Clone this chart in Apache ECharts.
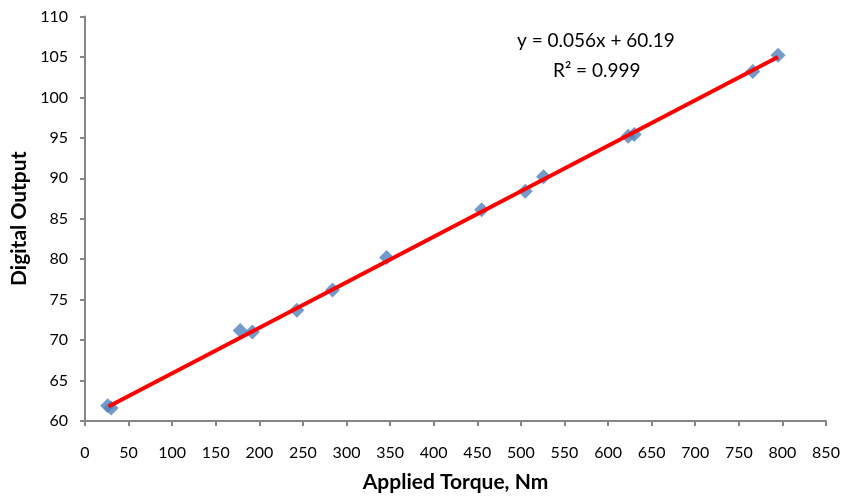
<!DOCTYPE html>
<html><head><meta charset="utf-8">
<script src="https://cdn.jsdelivr.net/npm/echarts@6/dist/echarts.min.js"></script>
<style>html,body{margin:0;padding:0;background:#fff}#c{width:845px;height:498px}</style>
</head><body><div id="c"></div>
<script>
const torque = [26, 30, 178, 192, 243, 284, 346, 455, 505, 526, 623, 630, 766, 795];
const output = [61.9, 61.6, 71.2, 71.0, 73.7, 76.2, 80.2, 86.1, 88.4, 90.2, 95.2, 95.4, 103.2, 105.2];
const trendX = [27, 795];
const trendY = [61.8, 105.0];
const xTicks = {min: 0, max: 850, interval: 50};
const yTicks = {min: 60, max: 110, interval: 5};
const eqText = 'y = 0.056x + 60.19';
const r2Text = 'R² = 0.999';

const chart = echarts.init(document.getElementById('c'), null, {renderer: 'canvas'});
const font = 'Lato, "Open Sans", sans-serif';
const axisLine = {show: true, onZero: false, lineStyle: {color: '#868686', width: 2}};
chart.setOption({
  animation: false,
  backgroundColor: '#fff',
  grid: {left: 85, right: 19, top: 16.5, bottom: 73},
  xAxis: {
    type: 'value', min: xTicks.min, max: xTicks.max, interval: xTicks.interval,
    name: 'Applied Torque, Nm', nameLocation: 'middle', nameGap: 51,
    nameTextStyle: {fontFamily: font, fontWeight: 'bold', fontSize: 21, color: '#000'},
    axisLine: axisLine,
    axisTick: {show: true, length: 5, lineStyle: {color: '#868686', width: 2}},
    axisLabel: {fontFamily: font, fontSize: 16, color: '#000', margin: 24},
    splitLine: {show: false}
  },
  yAxis: {
    type: 'value', min: yTicks.min, max: yTicks.max, interval: yTicks.interval,
    name: 'Digital Output', nameLocation: 'middle', nameGap: 54,
    nameTextStyle: {fontFamily: font, fontWeight: 'bold', fontSize: 21, color: '#000'},
    axisLine: axisLine,
    axisTick: {show: true, length: 5, lineStyle: {color: '#868686', width: 2}},
    axisLabel: {fontFamily: font, fontSize: 16, color: '#000', margin: 17},
    splitLine: {show: false}
  },
  graphic: [
    {type: 'text', left: 517, top: 31, style: {text: eqText, font: '19px ' + font, fill: '#000'}},
    {type: 'text', left: 553, top: 61, style: {text: r2Text, font: '19px ' + font, fill: '#000'}}
  ],
  series: [
    {
      type: 'scatter', data: torque.map((x, i) => [x, output[i]]),
      symbol: 'diamond', symbolSize: 15,
      itemStyle: {color: '#4F81BD'}, z: 2
    },
    {
      type: 'line', data: trendX.map((x, i) => [x, trendY[i]]),
      symbol: 'none', lineStyle: {color: '#FF0000', width: 4}, z: 3
    }
  ]
});
</script></body></html>
